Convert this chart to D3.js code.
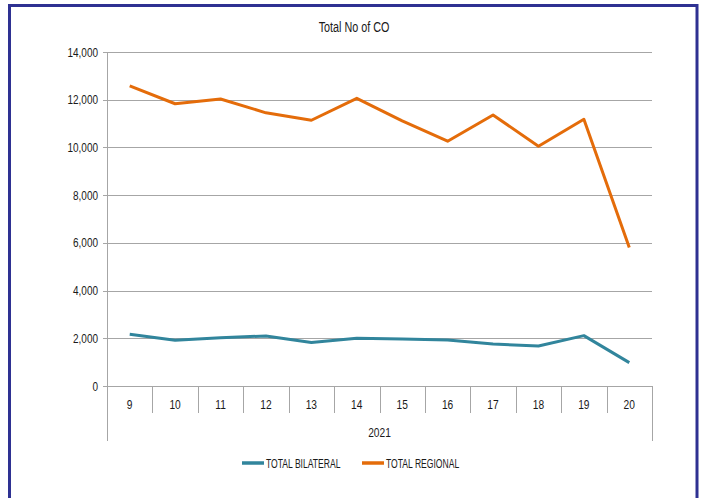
<!DOCTYPE html>
<html><head><meta charset="utf-8">
<script src="https://cdn.jsdelivr.net/npm/d3@7"></script>
<style>
body{margin:0;background:#fff;}
svg text{font-family:"Liberation Sans","Arial",sans-serif;fill:#1a1a1a;}
</style></head>
<body><svg id="c" width="702" height="498"></svg>
<script>
const categories = ["9","10","11","12","13","14","15","16","17","18","19","20"];
const groupLabel = "2021";
const bilateral = [2170,1920,2020,2100,1820,2000,1970,1930,1760,1680,2110,980];
const regional = [12580,11830,12030,11450,11140,12060,11110,10260,11360,10050,11180,5810];
const seriesNames = ["TOTAL BILATERAL","TOTAL REGIONAL"];
const colors = ["#31859C","#E46C0A"];
const yTicks = [0,2000,4000,6000,8000,10000,12000,14000];

const svg = d3.select("#c");
// condensed text helper
function ctext(g, x, y, str, size, sx, anchor){
  return g.append("text").attr("transform",`translate(${x},${y}) scale(${sx},1)`)
    .attr("font-size",size).attr("text-anchor",anchor||"start").text(str);
}
// frame
svg.append("rect").attr("x",9.5).attr("y",5.5).attr("width",687.5).attr("height",500)
  .attr("fill","none").attr("stroke","#2E3192").attr("stroke-width",3);

const L=107,R=652,T=52,B=386;
const x = d3.scaleBand().domain(categories).range([L,R]);
const y = d3.scaleLinear().domain([0,14000]).range([B,T]);

ctext(svg,354,31.5,"Total No of CO",15,0.72,"middle");

// gridlines
svg.append("g").selectAll("line").data(yTicks).join("line")
  .attr("x1",L-4).attr("x2",R).attr("y1",d=>Math.round(y(d))+0.5).attr("y2",d=>Math.round(y(d))+0.5)
  .attr("stroke","#a6a6a6").attr("stroke-width",1);
yTicks.forEach(d=>ctext(svg,L-9,y(d)+4.5,d3.format(",")(d),12.5,0.8,"end"));
// y axis line
svg.append("line").attr("x1",L+0.5).attr("x2",L+0.5).attr("y1",T).attr("y2",B)
  .attr("stroke","#a6a6a6");

// category separators
const seps = categories.map(c=>x(c)).concat([R]);
svg.append("g").selectAll("line").data(seps).join("line")
  .attr("x1",d=>Math.round(d)+0.5).attr("x2",d=>Math.round(d)+0.5)
  .attr("y1",B).attr("y2",(d,i)=> (i===0||i===seps.length-1)?441:413)
  .attr("stroke","#a6a6a6");
categories.forEach(d=>ctext(svg,x(d)+x.bandwidth()/2,409,d,12,0.85,"middle"));
ctext(svg,(L+R)/2,437,groupLabel,12,0.85,"middle");

const line = d3.line().x((d,i)=>x(categories[i])+x.bandwidth()/2).y(d=>y(d));
[bilateral,regional].forEach((s,k)=>{
  svg.append("path").datum(s).attr("d",line).attr("fill","none")
    .attr("stroke",colors[k]).attr("stroke-width",3).attr("stroke-linejoin","round");
});

// legend
const lx=[242,362];
seriesNames.forEach((n,k)=>{
  svg.append("line").attr("x1",lx[k]).attr("x2",lx[k]+22).attr("y1",463).attr("y2",463)
    .attr("stroke",colors[k]).attr("stroke-width",3.5);
  ctext(svg,lx[k]+24,467.5,n,13,0.66,"start");
});
</script></body></html>
